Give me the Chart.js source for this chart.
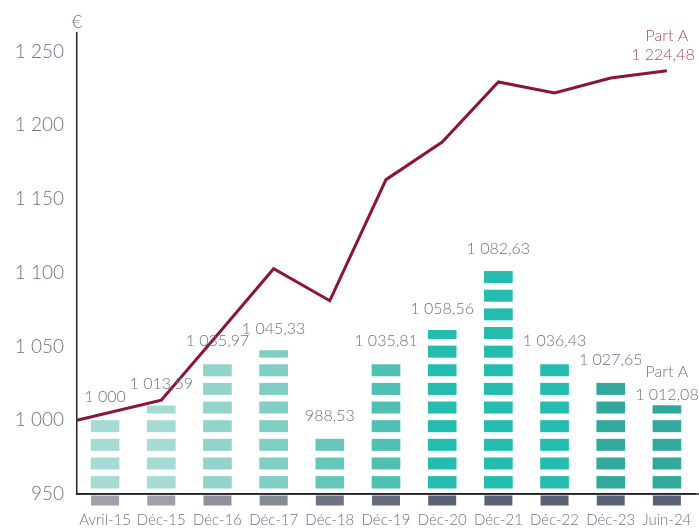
<!DOCTYPE html>
<html>
<head>
<meta charset="utf-8">
<script src="https://cdn.jsdelivr.net/npm/chart.js@4/dist/chart.umd.min.js"></script>
<style>
  html, body { margin: 0; padding: 0; background: #fff; }
  #wrap { width: 699px; height: 529px; position: relative; }
</style>
</head>
<body>
<div id="wrap"><canvas id="c" width="699" height="529"></canvas></div>
<script>
// ---- data ----
const categories = ['Avril-15','Déc-15','Déc-16','Déc-17','Déc-18','Déc-19','Déc-20','Déc-21','Déc-22','Déc-23','Juin-24'];
// values printed above the bars
const barValues = [1000, 1013.59, 1035.97, 1045.33, 988.53, 1035.81, 1058.56, 1082.63, 1036.43, 1027.65, 1012.08];
// heights of the bars as drawn in the picture
const barHeights = [1001, 1009.8, 1039, 1047.3, 988.3, 1039.2, 1060.9, 1101.4, 1039.2, 1026.3, 1010];
const barBase = 954;
// line "Part A" (position on the category index axis, value)
const lineIndex = [-0.5, 1, 2, 3, 4, 5, 6, 7, 8, 9, 10];
const lineValues = [1000, 1013.6, 1058, 1102.7, 1081.0, 1163.1, 1188.6, 1229.3, 1221.8, 1232.0, 1236.9];
const lineLabel = ['Part A', '1 224,48'];
const lastBarTitle = 'Part A';
const yTicks = [950, 1000, 1050, 1100, 1150, 1200, 1250];
const yMin = 950, yMax = 1262.5;

// ---- styles ----
const barColors = ['#a6dbd4','#a6dbd4','#93d4ca','#80cec4','#66c6b9','#4fc0b2','#24bcae','#24bcae','#24bcae','#33a89d','#33a89d'];
const baseColors = ['#a0a0ab','#a0a0ab','#8e909c','#848c94','#6e7384','#656b7d','#5a6174','#5a6174','#5a6174','#5a6174','#5a6174'];
const lineColor = '#8a1538';
const lineLabelColor = '#a84a6c';
const textGray = '#6d7284';
const FONT = 'Lato, "Open Sans", sans-serif';

function fmt(v) {
  const neg = v < 0;
  let s = Math.abs(v).toFixed(Number.isInteger(v) ? 0 : 2);
  let [ip, dp] = s.split('.');
  ip = ip.replace(/\B(?=(\d{3})+(?!\d))/g, ' ');
  return (neg ? '-' : '') + ip + (dp ? ',' + dp : '');
}

const decor = {
  id: 'decor',
  afterDatasetDraw(chart, args) {
    if (args.index !== 0) return;
    const ctx = chart.ctx;
    const meta = chart.getDatasetMeta(0);
    const period = 18.64, seg = 12;
    ctx.save();
    ctx.fillStyle = '#ffffff';
    meta.data.forEach(el => {
      const w = el.width;
      for (let k = 0; k < 40; k++) {
        const gb = el.base - seg - k * period;
        const gt = gb - (period - seg);
        if (gb <= el.y) break;
        const top = Math.max(gt, el.y - 1);
        ctx.fillRect(el.x - w / 2 - 1, top, w + 2, gb - top);
      }
    });
    ctx.restore();
  },
  afterDatasetsDraw(chart) {
    const ctx = chart.ctx;
    const area = chart.chartArea;
    const meta = chart.getDatasetMeta(0);
    ctx.save();
    // x axis line extension
    ctx.strokeStyle = '#222';
    ctx.lineWidth = 1.5;
    ctx.beginPath();
    ctx.moveTo(area.left, area.bottom);
    ctx.lineTo(699, area.bottom);
    ctx.stroke();
    // grey base blocks
    meta.data.forEach((el, i) => {
      ctx.fillStyle = baseColors[i];
      ctx.fillRect(el.x - el.width / 2, area.bottom + 1.5, el.width, 10);
    });
    // value labels
    ctx.font = '300 16px ' + FONT;
    ctx.fillStyle = textGray;
    ctx.textAlign = 'center';
    ctx.textBaseline = 'middle';
    meta.data.forEach((el, i) => {
      if (i === meta.data.length - 1) {
        ctx.fillText(fmt(barValues[i]), el.x, el.y - 11);
        ctx.fillText(lastBarTitle, el.x, el.y - 34);
      } else {
        ctx.fillText(fmt(barValues[i]), el.x, el.y - 22);
      }
    });
    // line end label
    const lm = chart.getDatasetMeta(1);
    const last = lm.data[lm.data.length - 1];
    ctx.fillStyle = lineLabelColor;
    ctx.fillText(lineLabel[0], last.x, last.y - 35);
    ctx.fillText(lineLabel[1], last.x - 4, last.y - 16);
    // euro sign
    ctx.fillStyle = textGray;
    ctx.font = '300 18px ' + FONT;
    ctx.fillText('€', area.left, area.top - 11);
    ctx.restore();
  }
};

new Chart(document.getElementById('c'), {
  type: 'bar',
  data: {
    labels: categories,
    datasets: [
      {
        type: 'bar',
        data: barHeights,
        base: barBase,
        backgroundColor: barColors,
        barThickness: 28,
        grouped: false,
        order: 2
      },
      {
        type: 'line',
        xAxisID: 'x2',
        data: lineIndex.map((x, i) => ({ x: x, y: lineValues[i] })),
        borderColor: lineColor,
        borderWidth: 3,
        pointRadius: 0,
        tension: 0,
        fill: false,
        order: 1,
        clip: false
      }
    ]
  },
  plugins: [decor],
  options: {
    responsive: false,
    animation: false,
    layout: { padding: { top: 33, right: 4, bottom: 0, left: 0 } },
    plugins: { legend: { display: false }, tooltip: { enabled: false } },
    scales: {
      x: {
        type: 'category',
        offset: true,
        grid: { display: false, drawTicks: false },
        border: { display: true, color: '#222', width: 1.5 },
        ticks: { color: textGray, font: { family: FONT, size: 15, weight: 300 }, padding: 17, maxRotation: 0, autoSkip: false },
        afterFit(s) { s.height = 35; s.paddingLeft = 0; s.paddingRight = 0; }
      },
      x2: {
        type: 'linear',
        display: false,
        min: -0.5,
        max: 10.5,
        offset: false
      },
      y: {
        min: yMin,
        max: yMax,
        grid: { display: false, drawTicks: false },
        border: { display: true, color: '#222', width: 1.5 },
        ticks: {
          color: textGray,
          font: { family: FONT, size: 19, weight: 300 },
          padding: 13,
          callback: v => fmt(v)
        },
        afterBuildTicks(s) { s.ticks = yTicks.map(v => ({ value: v })); },
        afterFit(s) { s.width = 77; s.paddingTop = 0; s.paddingBottom = 0; }
      }
    }
  }
});
</script>
</body>
</html>
